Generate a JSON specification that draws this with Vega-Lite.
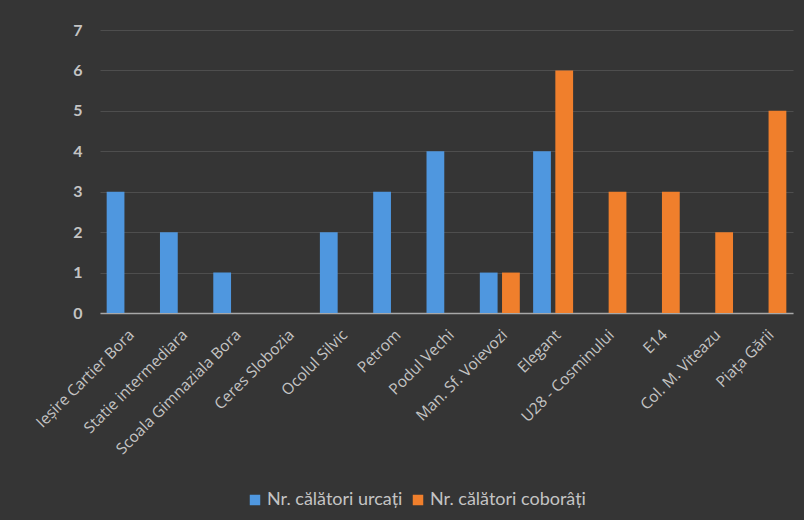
{
  "$schema": "https://vega.github.io/schema/vega-lite/v6.json",
  "autosize": {"type": "none"},
  "width": 693,
  "height": 283,
  "padding": {"left": 100, "top": 30, "right": 11, "bottom": 207},
  "background": "#353535",
  "config": {
    "view": {"stroke": null},
    "font": "Lato",
    "axis": {"labelFont": "Lato", "labelColor": "#c4c4c4"},
    "legend": {"labelFont": "Lato"}
  },
  "data": {
    "values": [
      {"stop": "Ieșire Cartier Bora", "series": "Nr. călători urcați", "value": 3},
      {"stop": "Ieșire Cartier Bora", "series": "Nr. călători coborâți", "value": 0},
      {"stop": "Statie intermediara", "series": "Nr. călători urcați", "value": 2},
      {"stop": "Statie intermediara", "series": "Nr. călători coborâți", "value": 0},
      {"stop": "Scoala Gimnaziala Bora", "series": "Nr. călători urcați", "value": 1},
      {"stop": "Scoala Gimnaziala Bora", "series": "Nr. călători coborâți", "value": 0},
      {"stop": "Ceres Slobozia", "series": "Nr. călători urcați", "value": 0},
      {"stop": "Ceres Slobozia", "series": "Nr. călători coborâți", "value": 0},
      {"stop": "Ocolul Silvic", "series": "Nr. călători urcați", "value": 2},
      {"stop": "Ocolul Silvic", "series": "Nr. călători coborâți", "value": 0},
      {"stop": "Petrom", "series": "Nr. călători urcați", "value": 3},
      {"stop": "Petrom", "series": "Nr. călători coborâți", "value": 0},
      {"stop": "Podul Vechi", "series": "Nr. călători urcați", "value": 4},
      {"stop": "Podul Vechi", "series": "Nr. călători coborâți", "value": 0},
      {"stop": "Man. Sf. Voievozi", "series": "Nr. călători urcați", "value": 1},
      {"stop": "Man. Sf. Voievozi", "series": "Nr. călători coborâți", "value": 1},
      {"stop": "Elegant", "series": "Nr. călători urcați", "value": 4},
      {"stop": "Elegant", "series": "Nr. călători coborâți", "value": 6},
      {"stop": "U28 - Cosminului", "series": "Nr. călători urcați", "value": 0},
      {"stop": "U28 - Cosminului", "series": "Nr. călători coborâți", "value": 3},
      {"stop": "E14", "series": "Nr. călători urcați", "value": 0},
      {"stop": "E14", "series": "Nr. călători coborâți", "value": 3},
      {"stop": "Col. M. Viteazu", "series": "Nr. călători urcați", "value": 0},
      {"stop": "Col. M. Viteazu", "series": "Nr. călători coborâți", "value": 2},
      {"stop": "Piața Gării", "series": "Nr. călători urcați", "value": 0},
      {"stop": "Piața Gării", "series": "Nr. călători coborâți", "value": 5}
    ]
  },
  "mark": {"type": "bar"},
  "encoding": {
    "x": {
      "field": "stop",
      "type": "nominal",
      "sort": null,
      "scale": {"paddingInner": 0.25, "paddingOuter": 0.125},
      "axis": {
        "title": null,
        "labelAngle": -45,
        "labelFont": "Open Sans",
        "labelFontSize": 15.5,
        "labelPadding": 14,
        "ticks": false,
        "domainColor": "#a8a8a8",
        "domainWidth": 1.5,
        "labelLimit": 300
      }
    },
    "xOffset": {
      "field": "series",
      "type": "nominal",
      "sort": ["Nr. călători urcați", "Nr. călători coborâți"],
      "scale": {"paddingInner": 0.2}
    },
    "y": {
      "field": "value",
      "type": "quantitative",
      "scale": {"domain": [0, 7], "nice": false},
      "axis": {
        "title": null,
        "values": [0, 1, 2, 3, 4, 5, 6, 7],
        "labelOverlap": false,
        "labelFlush": false,
        "domain": false,
        "ticks": false,
        "labelFontSize": 16,
        "labelFontWeight": "bold",
        "labelPadding": 18,
        "gridColor": "#4e4e4e",
        "gridWidth": 1.2
      }
    },
    "color": {
      "field": "series",
      "type": "nominal",
      "sort": ["Nr. călători urcați", "Nr. călători coborâți"],
      "scale": {"range": ["#4f97df", "#f07f2c"]},
      "legend": {
        "title": null,
        "orient": "none",
        "direction": "horizontal",
        "legendX": 146,
        "legendY": 461,
        "symbolType": "square",
        "symbolSize": 110,
        "labelColor": "#c4c4c4",
        "labelFontSize": 18,
        "labelLimit": 400,
        "columnPadding": 6,
        "labelOffset": 3,
        "symbolOpacity": 1,
        "symbolStrokeWidth": 0
      }
    }
  }
}
